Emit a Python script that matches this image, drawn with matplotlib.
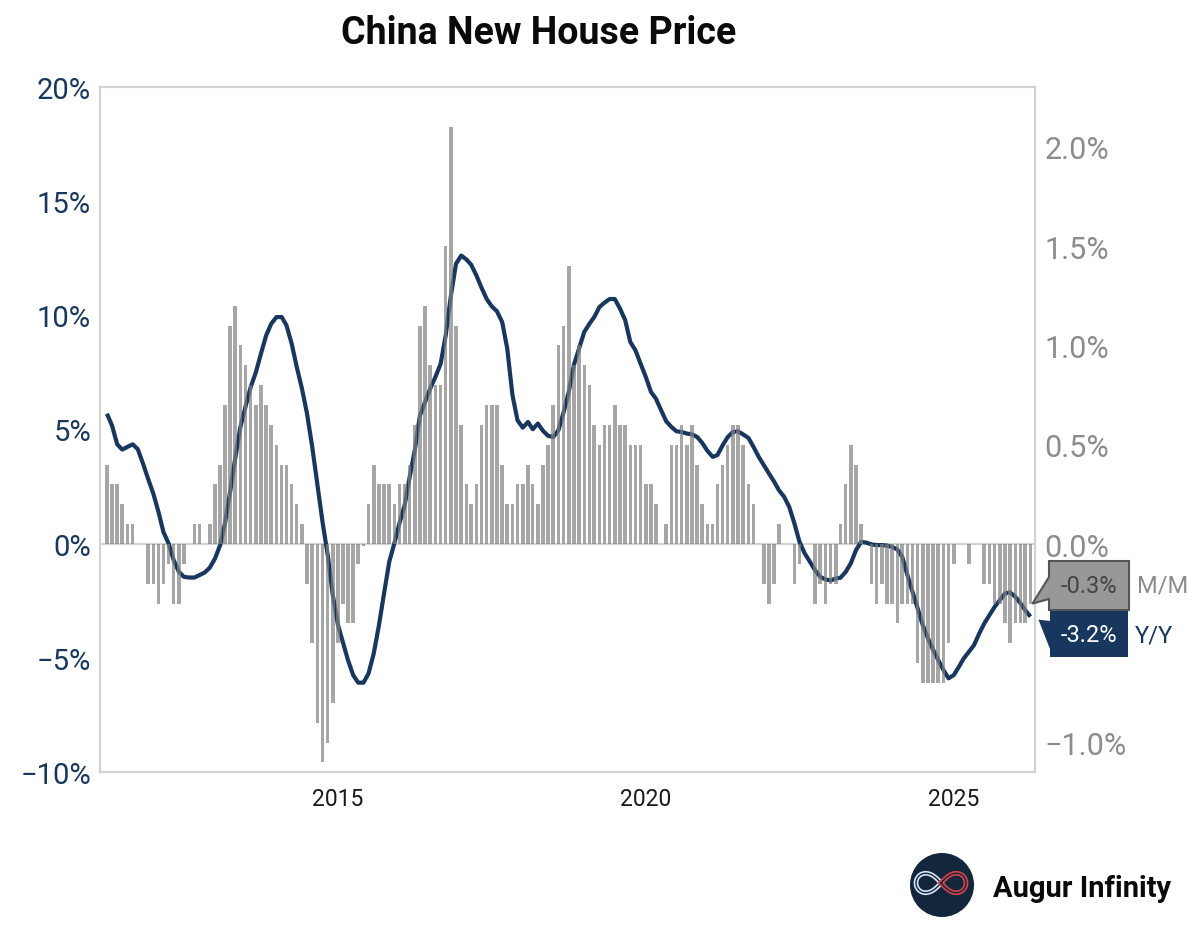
import numpy as np
import pandas as pd
import matplotlib
matplotlib.use('Agg')
import matplotlib.pyplot as plt
from matplotlib.patches import Polygon, Circle
from matplotlib.transforms import Affine2D

mm_values = [
    0.4, 0.3, 0.3, 0.2, 0.1, 0.1, 0, 0, -0.2, -0.2, -0.3, -0.2, -0.1, -0.3, -0.3, -0.1,
    0, 0.1, 0.1, 0, 0.1, 0.3, 0.4, 0.7, 1.1, 1.2, 1.0, 0.9, 0.8, 0.7, 0.8, 0.7,
    0.6, 0.5, 0.4, 0.4, 0.3, 0.2, 0.1, -0.2, -0.5, -0.9, -1.1, -1.0, -0.8, -0.5, -0.3, -0.4,
    -0.4, -0.1, -0.01, 0.2, 0.4, 0.3, 0.3, 0.3, 0.2, 0.3, 0.3, 0.4, 0.6, 1.1, 1.2, 0.9,
    0.8, 0.8, 1.5, 2.1, 1.1, 0.6, 0.3, 0.2, 0.3, 0.6, 0.7, 0.7, 0.7, 0.4, 0.2, 0.2,
    0.3, 0.3, 0.4, 0.3, 0.2, 0.4, 0.5, 0.7, 1.0, 1.1, 1.4, 0.9, 1.0, 0.9, 0.8, 0.6,
    0.5, 0.6, 0.6, 0.7, 0.6, 0.6, 0.5, 0.5, 0.5, 0.3, 0.3, 0.2, 0, 0.1, 0.5, 0.5,
    0.6, 0.5, 0.6, 0.4, 0.2, 0.1, 0.1, 0.3, 0.4, 0.5, 0.6, 0.6, 0.5, 0.3, 0.2, 0,
    -0.2, -0.3, -0.2, 0.1, 0, 0, -0.2, -0.1, 0, 0, -0.3, -0.2, -0.3, -0.2, -0.2, 0.1,
    0.3, 0.5, 0.4, 0.1, 0, -0.2, -0.3, -0.2, -0.3, -0.3, -0.4, -0.3, -0.3, -0.3, -0.6, -0.7,
    -0.7, -0.7, -0.7, -0.7, -0.5, -0.1, 0, 0, -0.1, 0, 0, -0.2, -0.2, -0.3, -0.3, -0.4,
    -0.5, -0.4, -0.4, -0.4, -0.3,
]
yy_values = [
    5.68, 5.17, 4.34, 4.11, 4.23, 4.34, 4.13, 3.5, 2.84, 2.19, 1.38, 0.51, 0.0, -0.73, -1.24, -1.46,
    -1.49, -1.49, -1.38, -1.27, -1.06, -0.66, -0.07, 0.87, 2.26, 3.72, 5.1, 5.98, 6.85, 7.5, 8.31, 9.11,
    9.62, 9.91, 9.91, 9.55, 8.75, 7.73, 6.78, 5.69, 4.23, 2.55, 0.95, -0.51, -2.26, -3.57, -4.37, -5.1,
    -5.76, -6.09, -6.09, -5.69, -4.81, -3.57, -2.19, -0.8, 0.0, 0.9, 1.7, 2.9, 4.1, 5.6, 6.2, 6.78,
    7.29, 7.87, 9.11, 10.86, 12.24, 12.6, 12.43, 12.2, 11.73, 11.2, 10.7, 10.38, 10.16, 9.69, 8.53, 6.49,
    5.39, 5.07, 5.32, 5.0, 5.25, 4.93, 4.71, 4.66, 4.96, 5.76, 6.63, 7.83, 8.53, 9.26, 9.62, 9.91,
    10.35, 10.54, 10.7, 10.7, 10.28, 9.77, 8.82, 8.45, 7.87, 7.29, 6.63, 6.34, 5.83, 5.35, 5.1, 4.91,
    4.88, 4.81, 4.78, 4.66, 4.4, 4.05, 3.79, 3.87, 4.3, 4.66, 4.88, 4.91, 4.77, 4.62, 4.23, 3.79,
    3.43, 3.06, 2.7, 2.33, 2.04, 1.6, 0.87, 0.07, -0.44, -0.8, -1.17, -1.46, -1.57, -1.62, -1.53, -1.5,
    -1.24, -0.87, -0.29, 0.07, 0.04, -0.04, -0.07, -0.07, -0.09, -0.15, -0.26, -0.58, -1.38, -2.11, -2.84, -3.57,
    -4.15, -4.66, -5.1, -5.54, -5.9, -5.76, -5.39, -5.03, -4.74, -4.45, -3.94, -3.5, -3.13, -2.77, -2.48, -2.19,
    -2.14, -2.33, -2.62, -2.92, -3.2,
]
dates = pd.date_range('2011-04-01', periods=len(mm_values), freq='MS')

left_ticks = [-10, -5, 0, 5, 10, 15, 20]
right_ticks = [-1.0, -0.5, 0.0, 0.5, 1.0, 1.5, 2.0]
right_tick_labels = ['\u22121.0%', '', '0.0%', '0.5%', '1.0%', '1.5%', '2.0%']
year_ticks = ['2015', '2020', '2025']

NAVY = '#17375e'
GREY = '#8c8c8c'
EDGE = '#d2d2d2'
plt.rcParams['font.family'] = ['Roboto', 'DejaVu Sans']

W, H = 1200, 937
fig = plt.figure(figsize=(W / 100, H / 100), dpi=100, facecolor='white')
ax = fig.add_axes([99.5 / W, 1 - 773 / H, (1035 - 99.5) / W, (773 - 87.5) / H])
ax2 = ax.twinx()

# pixel coords for the decoration outside the plot, y going down
px = Affine2D().scale(1 / W, -1 / H).translate(0, 1) + fig.transFigure

ax.plot(dates, yy_values, color=NAVY, lw=3.0, solid_joinstyle='round', solid_capstyle='butt', zorder=2)
ax.axhline(0, color=EDGE, lw=1.5, zorder=1)
ax.set_ylim(-10, 20)
ax.set_yticks(left_ticks)
ax.set_yticklabels([f'{t}%'.replace('-', '\u2212') for t in left_ticks])
ax.tick_params(axis='y', length=0, pad=6, labelsize=21, labelcolor=NAVY)

ax2.bar(dates, mm_values, width=21, color='#808080', alpha=0.7, linewidth=0, zorder=3)
ax2.set_ylim(-1.148, 2.304)
ax2.set_yticks(right_ticks)
ax2.set_yticklabels(right_tick_labels)
ax2.tick_params(axis='y', length=0, pad=7, labelsize=22, labelcolor=GREY)

ax.set_xlim(dates[0] - pd.Timedelta(days=44), dates[-1] + pd.Timedelta(days=27))
ax.set_xticks(pd.to_datetime([y + '-01-01' for y in year_ticks]))
ax.set_xticklabels(year_ticks)
ax.tick_params(axis='x', length=0, pad=11, labelsize=16.5, labelcolor='#1a1a1a')

for a in (ax, ax2):
    for s in a.spines.values():
        s.set_color(EDGE)
        s.set_linewidth(1.5)

fig.text(539, 34, 'China New House Price', transform=px, ha='center', va='center',
         fontsize=27, fontweight='bold', color='#0a0a0a')

# callouts, the tips sit at the last value of each series
to_px = px.inverted()
tip_mm = to_px.transform(ax2.transData.transform((matplotlib.dates.date2num(dates[-1]), mm_values[-1])))
tip_yy = to_px.transform(ax.transData.transform((matplotlib.dates.date2num(dates[-1]), yy_values[-1])))

fig.add_artist(Polygon([(1050, 611), (1050, 658), (1128, 658), (1128, 611), (1050, 611), (1050, 622),
                        (tip_yy[0] + 8, tip_yy[1] + 3), (1050, 650)],
                       closed=True, transform=px, facecolor=NAVY, edgecolor='none'))
fig.add_artist(Polygon([(1049, 562), (1129, 562), (1129, 611), (1049, 611), (1049, 600),
                        (tip_mm[0] + 2, tip_mm[1]), (1049, 578)],
                       closed=True, transform=px, facecolor='#989898', edgecolor='#555555', linewidth=1.5))
fig.text(1089, 587, '-0.3%', transform=px, ha='center', va='center', fontsize=17, color='#444444')
fig.text(1089, 636, '-3.2%', transform=px, ha='center', va='center', fontsize=17, color='white')
fig.text(1137, 586, 'M/M', transform=px, ha='left', va='center', fontsize=17, color=GREY)
fig.text(1135, 636, 'Y/Y', transform=px, ha='left', va='center', fontsize=17, color=NAVY)

# logo
fig.add_artist(Circle((942, 886), 32, transform=px, facecolor='#14263c', edgecolor='none'))
t = np.linspace(-np.pi / 2, np.pi / 2, 80)
lx = 25 * np.cos(t) / (1 + np.sin(t) ** 2)
ly = 25 * 1.1 * np.sin(t) * np.cos(t) / (1 + np.sin(t) ** 2)
for sign, col in ((-1, '#d5e6f5'), (1, '#d8434a')):
    fig.add_artist(plt.Line2D(941 + sign * lx, 884 + ly, transform=px, color=col, lw=3.4))
    fig.add_artist(plt.Line2D(941 + sign * lx, 884 + ly, transform=px, color='#14263c', lw=1.0))

fig.text(993, 889, 'Augur Infinity', transform=px, ha='left', va='center',
         fontsize=21, fontweight='bold', color='#0a0a0a')

fig.savefig('out.png', dpi=100)
